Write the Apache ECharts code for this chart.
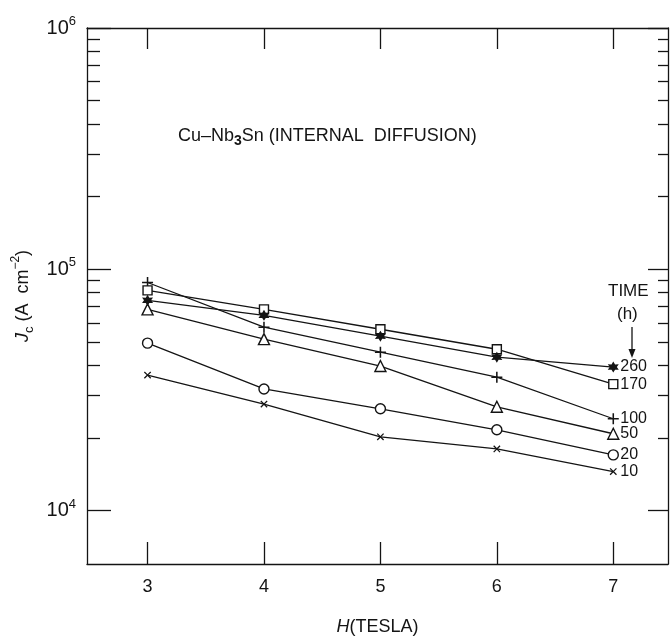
<!DOCTYPE html>
<html>
<head>
<meta charset="utf-8">
<script src="https://cdn.jsdelivr.net/npm/echarts@6/dist/echarts.min.js"></script>
<style>
html,body{margin:0;padding:0;background:#fff;}
#chart{width:670px;height:641px;}
</style>
</head>
<body>
<div id="chart"></div>
<script>
// 磁场 H (T)
var fields = [3, 4, 5, 6, 7];
// 扩散时间 (h)，以及各时间下的 Jc 读数 (A cm^-2)
var timeLabels = ['10', '20', '50', '100', '170', '260'];
var jc10  = [36400, 27600, 20200, 18000, 14500];
var jc20  = [49400, 31900, 26400, 21600, 17000];
var jc50  = [68200, 51300, 39700, 26900, 20800];
var jc100 = [88100, 57500, 45300, 35700, 24000];
var jc170 = [81700, 68200, 56400, 46600, 33400];
var jc260 = [74300, 64400, 52800, 43200, 39300];
// 刻度
var xTicks = [3, 4, 5, 6, 7];
var yMajor = [1e4, 1e5, 1e6];
var yMinor = [2e4, 3e4, 4e4, 5e4, 6e4, 7e4, 8e4, 9e4, 2e5, 3e5, 4e5, 5e5, 6e5, 7e5, 8e5, 9e5];

var ink = '#141414';
var font = '"Liberation Sans", Arial, sans-serif';
var plusPath = 'path://M4.3 0H5.7V4.3H10V5.7H5.7V10H4.3V5.7H0V4.3H4.3Z';
var starPath = 'path://M10 0L12.8 5.2L18.66 5L15.6 10L18.66 15L12.8 14.8L10 20L7.2 14.8L1.34 15L4.4 10L1.34 5L7.2 5.2Z';

function makeSeries(idx, values, symbol, size, open, rotate) {
    return {
        name: timeLabels[idx],
        type: 'line',
        data: fields.map(function (x, i) { return [x, values[i]]; }),
        symbol: symbol,
        symbolSize: size,
        symbolRotate: rotate || 0,
        showAllSymbol: true,
        lineStyle: {color: ink, width: 1.3},
        itemStyle: open ? {color: '#fff', borderColor: ink, borderWidth: 1.4} : {color: ink, borderWidth: 0},
        endLabel: {
            show: true,
            formatter: timeLabels[idx],
            distance: 7,
            color: ink,
            fontSize: 16,
            fontFamily: font
        },
        z: 3
    };
}

function yLabel(v) {
    return '{b|10}{s|' + Math.round(Math.log10(v)) + '}';
}

var lineSty = {color: ink, width: 1.3};

var chart = echarts.init(document.getElementById('chart'));
var option = {
    animation: false,
    backgroundColor: '#fff',
    title: {
        text: '{n|Cu\u2013Nb}{b|3}{n|Sn (INTERNAL  DIFFUSION)}',
        left: 178,
        top: 124,
        padding: 0,
        textStyle: {
            fontWeight: 'normal',
            rich: {
                n: {fontSize: 18, fontFamily: font, fontWeight: 'normal', color: ink, lineHeight: 24},
                b: {fontSize: 14, fontFamily: font, fontWeight: 'bold', color: ink, verticalAlign: 'bottom', lineHeight: 16}
            }
        }
    },
    grid: {left: 87, right: 2, top: 28, bottom: 74, containLabel: false},
    xAxis: [{
        type: 'value',
        position: 'bottom',
        min: 2.48,
        max: 7.47,
        axisLine: {show: true, onZero: false, lineStyle: lineSty},
        axisTick: {show: true, inside: true, length: 22, customValues: xTicks, lineStyle: lineSty},
        axisLabel: {customValues: xTicks, fontSize: 18, margin: 14, color: ink, fontFamily: font},
        splitLine: {show: false},
        name: '{i|H}{n|(TESLA)}',
        nameLocation: 'middle',
        nameGap: 54,
        nameTextStyle: {
            rich: {
                i: {fontSize: 18, fontStyle: 'italic', fontFamily: font, color: ink},
                n: {fontSize: 18, fontFamily: font, color: ink}
            }
        }
    }, {
        type: 'value',
        position: 'top',
        min: 2.48,
        max: 7.47,
        axisLine: {show: true, onZero: false, lineStyle: lineSty},
        axisTick: {show: true, inside: true, length: 21, customValues: xTicks, lineStyle: lineSty},
        axisLabel: {show: false},
        splitLine: {show: false}
    }],
    yAxis: [{
        type: 'log',
        position: 'left',
        min: 6000,
        max: 1e6,
        axisLine: {show: true, onZero: false, lineStyle: lineSty},
        axisTick: {show: true, inside: true, length: 24, customValues: yMajor, lineStyle: lineSty},
        axisLabel: {
            customValues: yMajor,
            formatter: yLabel,
            margin: 11,
            rich: {
                b: {fontSize: 20, fontFamily: font, color: ink, lineHeight: 26},
                s: {fontSize: 13, fontFamily: font, color: ink, verticalAlign: 'top', lineHeight: 14}
            }
        },
        splitLine: {show: false},
        name: '{j|J}{c|c}{n| (A  cm}{s|\u22122}{n|)}',
        nameLocation: 'middle',
        nameRotate: 90,
        nameGap: 49,
        nameTextStyle: {
            rich: {
                j: {fontSize: 18, fontStyle: 'italic', fontFamily: font, color: ink, lineHeight: 26},
                c: {fontSize: 13, fontFamily: font, color: ink, verticalAlign: 'bottom', lineHeight: 14},
                n: {fontSize: 18, fontFamily: font, color: ink, lineHeight: 26},
                s: {fontSize: 12, fontFamily: font, color: ink, verticalAlign: 'top', lineHeight: 14}
            }
        }
    }, {
        type: 'log',
        position: 'left',
        min: 6000,
        max: 1e6,
        axisLine: {show: false, onZero: false},
        axisTick: {show: true, inside: true, length: 13, customValues: yMinor, lineStyle: lineSty},
        axisLabel: {show: false},
        splitLine: {show: false}
    }, {
        type: 'log',
        position: 'right',
        min: 6000,
        max: 1e6,
        axisLine: {show: true, onZero: false, lineStyle: lineSty},
        axisTick: {show: true, inside: true, length: 20, customValues: yMajor, lineStyle: lineSty},
        axisLabel: {show: false},
        splitLine: {show: false}
    }, {
        type: 'log',
        position: 'right',
        min: 6000,
        max: 1e6,
        axisLine: {show: false, onZero: false},
        axisTick: {show: true, inside: true, length: 10, customValues: yMinor, lineStyle: lineSty},
        axisLabel: {show: false},
        splitLine: {show: false}
    }],
    graphic: [{
        type: 'text',
        left: 608,
        top: 283,
        style: {text: 'TIME', fontSize: 17, fontFamily: font, fill: ink}
    }, {
        type: 'text',
        left: 617,
        top: 306,
        style: {text: '(h)', fontSize: 17, fontFamily: font, fill: ink}
    }, {
        type: 'line',
        shape: {x1: 632, y1: 327, x2: 632, y2: 352},
        style: {stroke: ink, lineWidth: 1.3}
    }, {
        type: 'polygon',
        shape: {points: [[628.5, 349], [635.5, 349], [632, 358]]},
        style: {fill: ink}
    }],
    series: [
        makeSeries(0, jc10, plusPath, 9, false, 45),
        makeSeries(1, jc20, 'circle', 10, true),
        makeSeries(2, jc50, 'triangle', 11, true),
        makeSeries(3, jc100, plusPath, 11, false),
        makeSeries(4, jc170, 'rect', 9, true),
        makeSeries(5, jc260, starPath, 11, false)
    ]
};
chart.setOption(option);
</script>
</body>
</html>
